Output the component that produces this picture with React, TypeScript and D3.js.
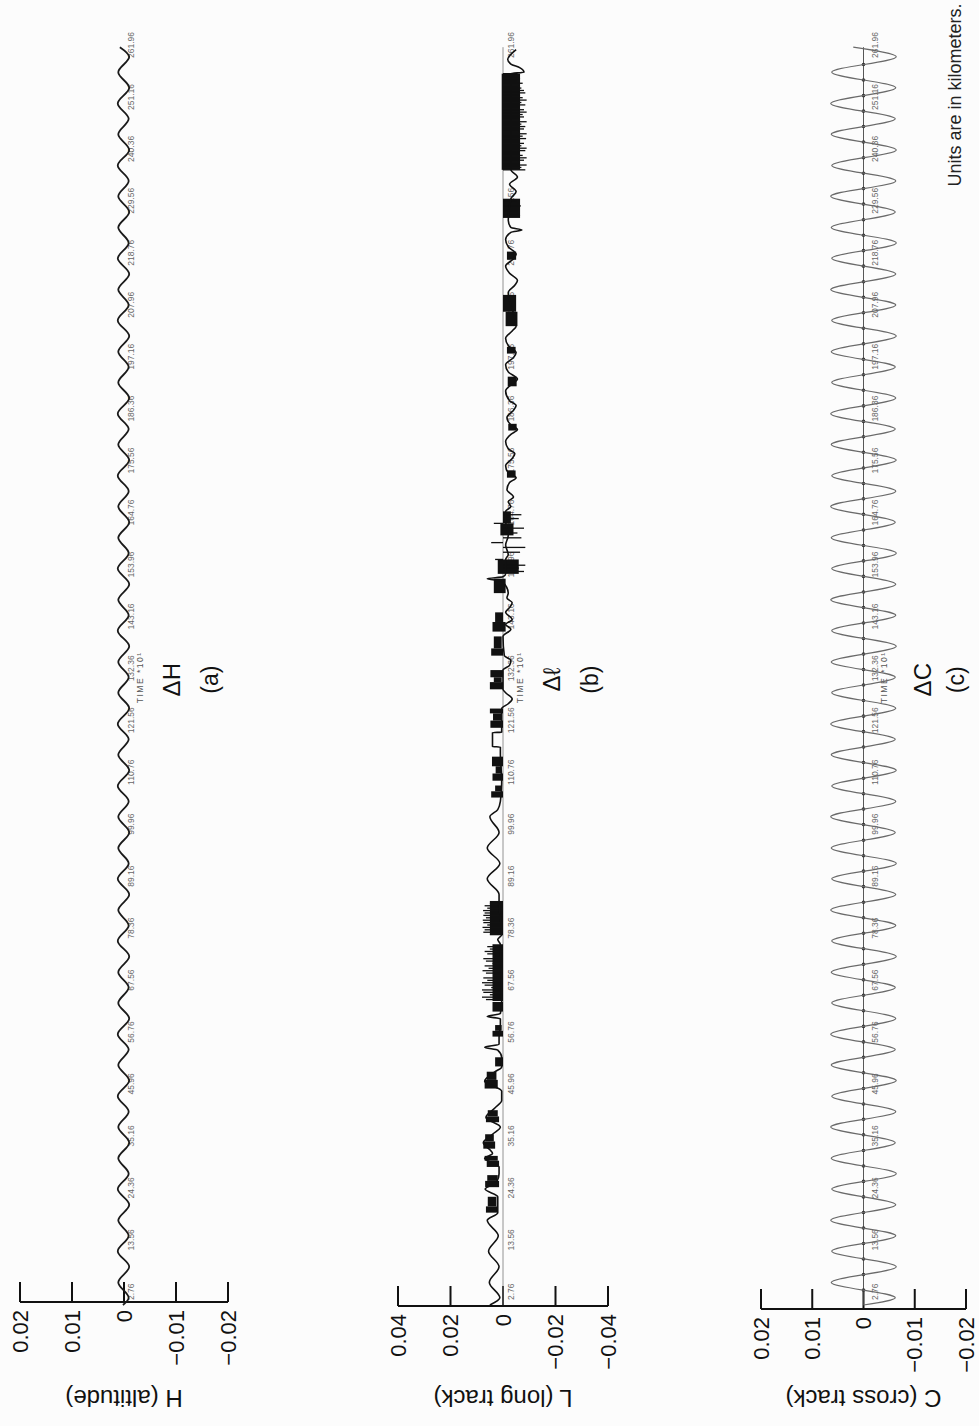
import React from 'react';
import * as d3 from 'd3';

const W = 979;
const H = 1426;

// ---------- data ----------
const timeTicks = [2.76, 13.56, 24.36, 35.16, 45.96, 56.76, 67.56, 78.36, 89.16, 99.96, 110.76, 121.56, 132.36, 143.16, 153.96, 164.76, 175.56, 186.36, 197.16, 207.96, 218.76, 229.56, 240.36, 251.16, 261.96];

const smallTicks = [0.02, 0.01, 0, -0.01, -0.02];
const smallTickLabels = ['0.02', '0.01', '0', '\u22120.01', '\u22120.02'];
const bigTicks = [0.04, 0.02, 0, -0.02, -0.04];
const bigTickLabels = ['0.04', '0.02', '0', '\u22120.02', '\u22120.04'];

// times of the successive extremes of the orbital oscillation (ΔH and ΔC)
const extremesT = [0, 1.5, 4.7, 7.95, 11.2, 14.4, 17.6, 20.85, 24.1, 27.3, 30.5, 33.75, 37.0, 40.2, 43.4, 46.65, 49.9, 53.1, 56.3, 59.55, 62.8, 66.0, 69.2, 72.45, 75.7, 78.9, 82.1, 85.35, 88.6, 91.8, 95.0, 98.25, 101.5, 104.7, 107.9, 111.15, 114.4, 117.6, 120.8, 124.05, 127.3, 130.5, 133.7, 136.95, 140.2, 143.4, 146.6, 149.85, 153.1, 156.3, 159.5, 162.75, 166.0, 169.2, 172.4, 175.65, 178.9, 182.1, 185.3, 188.55, 191.8, 195.0, 198.2, 201.45, 204.7, 207.9, 211.1, 214.35, 217.6, 220.8, 224.0, 227.25, 230.5, 233.7, 236.9, 240.15, 243.4, 246.6, 249.8, 253.05, 256.3, 259.5, 261.5];

const aValues = [0.0002,
  -0.0009, 0.0011, -0.0010, 0.0012, -0.0009, 0.0011, -0.0010, 0.0012, -0.0009, 0.0011,
  -0.0010, 0.0011, -0.0009, 0.0012, -0.0010, 0.0011, -0.0009, 0.0012, -0.0010, 0.0011,
  -0.0009, 0.0011, -0.0010, 0.0012, -0.0009, 0.0011, -0.0010, 0.0012, -0.0009, 0.0011,
  -0.0010, 0.0011, -0.0009, 0.0012, -0.0010, 0.0011, -0.0009, 0.0012, -0.0010, 0.0011,
  -0.0009, 0.0011, -0.0010, 0.0012, -0.0009, 0.0011, -0.0010, 0.0012, -0.0009, 0.0011,
  -0.0010, 0.0011, -0.0009, 0.0012, -0.0010, 0.0011, -0.0009, 0.0012, -0.0010, 0.0011,
  -0.0009, 0.0011, -0.0010, 0.0012, -0.0009, 0.0011, -0.0010, 0.0012, -0.0009, 0.0011,
  -0.0010, 0.0011, -0.0009, 0.0012, -0.0010, 0.0011, -0.0009, 0.0012, -0.0010, 0.0011,
  -0.0010, 0.0008];

const cValues = [0,
  -0.0062, 0.0063, -0.0064, 0.0062, -0.0063, 0.0064, -0.0063, 0.0062, -0.0064, 0.0063,
  -0.0062, 0.0064, -0.0063, 0.0062, -0.0064, 0.0063, -0.0062, 0.0064, -0.0063, 0.0062,
  -0.0062, 0.0063, -0.0064, 0.0062, -0.0063, 0.0064, -0.0063, 0.0062, -0.0064, 0.0063,
  -0.0062, 0.0064, -0.0063, 0.0062, -0.0064, 0.0063, -0.0062, 0.0064, -0.0063, 0.0062,
  -0.0062, 0.0063, -0.0064, 0.0062, -0.0063, 0.0064, -0.0063, 0.0062, -0.0064, 0.0063,
  -0.0062, 0.0064, -0.0063, 0.0062, -0.0064, 0.0063, -0.0062, 0.0064, -0.0063, 0.0062,
  -0.0062, 0.0063, -0.0064, 0.0062, -0.0063, 0.0064, -0.0063, 0.0062, -0.0064, 0.0063,
  -0.0062, 0.0064, -0.0063, 0.0062, -0.0064, 0.0063, -0.0062, 0.0064, -0.0063, 0.0062,
  -0.0064, 0.002];

// Δℓ (long track) trace
const bLineT = [0, 1.5, 4.7, 7.95, 11.2, 14.4, 17.6, 19.2, 22.5, 24.1, 25.5, 27.3, 28.7, 30.5, 31.5, 33.75, 35.5, 37.0, 39.0, 41.0, 42.5, 44.5, 46.5, 48.5, 49.5, 51.5, 53.0, 53.6, 54.2, 55.7, 58.3, 59.5, 60.0, 60.6, 63.0, 75.0, 76.0, 77.0, 84.0, 85.35, 88.6, 91.8, 95.0, 98.25, 101.5, 103.0, 104.7, 108.5, 109.0, 114.5, 116.0, 116.1, 119.0, 119.1, 120.0, 124.0, 125.0, 126.0, 127.3, 128.0, 132.0, 133.0, 134.0, 135.0, 139.0, 140.5, 141.5, 142.5, 144.0, 145.0, 146.0, 147.0, 148.0, 150.5, 151.0, 151.4, 152.0, 155.0, 156.0, 158.0, 160.0, 163.0, 165.0, 166.0, 167.0, 168.0, 169.5, 171.0, 172.0, 173.0, 174.5, 176.0, 177.0, 178.0, 179.5, 181.0, 182.0, 183.0, 184.5, 186.0, 187.0, 188.0, 190.0, 191.5, 192.5, 194.0, 195.5, 197.0, 198.0, 199.5, 201.0, 202.5, 203.5, 210.5, 212.0, 213.0, 214.5, 216.0, 217.5, 218.5, 220.0, 221.5, 223.0, 223.5, 224.0, 225.5, 230.0, 231.5, 233.0, 234.5, 236.0, 256.0, 256.3, 257.2, 258.0, 259.0, 260.0, 261.0];
const bLineV = [0.005, 0.0012, 0.0052, 0.0015, 0.0055, 0.0018, 0.006, 0.002, 0.002, 0.0068, 0.0025, 0.0015, 0.0015, 0.007, 0.004, 0.0075, 0.004, 0.001, 0.0065, 0.003, 0.0005, 0.0005, 0.007, 0.003, 0.0005, 0.0005, 0.002, 0.007, 0.0015, 0.0015, 0.001, 0.001, 0.006, 0.001, 0.0005, 0.001, 0.002, 0.0005, 0.0015, 0.0015, 0.006, 0.0012, 0.006, 0.0015, 0.005, 0.002, 0.001, 0.0005, 0.0005, 0.001, 0.001, 0.004, 0.004, 0.0005, 0.0005, 0.0005, -0.002, -0.0035, -0.001, 0.0, 0.0, -0.0025, -0.003, -0.0005, 0.0, -0.003, -0.001, -0.0035, -0.001, -0.0025, -0.0035, -0.0015, -0.002, 0.0005, 0.006, 0.0, -0.001, -0.001, -0.002, -0.001, -0.002, -0.001, -0.001, -0.003, -0.002, -0.004, -0.0015, -0.0025, -0.005, -0.002, -0.001, -0.0035, -0.0045, -0.002, -0.001, -0.003, -0.0055, -0.003, -0.0015, -0.004, -0.005, -0.0025, -0.001, -0.0035, -0.0055, -0.002, -0.001, -0.004, -0.005, -0.002, -0.001, -0.0035, -0.005, -0.002, -0.0045, -0.0055, -0.0025, -0.001, -0.004, -0.005, -0.002, -0.001, -0.003, -0.0072, -0.003, -0.002, -0.003, -0.005, -0.0025, -0.0055, -0.003, -0.003, -0.008, -0.0065, -0.003, -0.0018, -0.003, -0.005];

// dense blocks of the Δℓ trace: start, end, low, high
const blockStart = [19.2, 20.5, 24.5, 25.8, 28.7, 30.0, 32.5, 34.0, 38.0, 39.2, 45.0, 46.8, 49.6, 55.8, 57.0, 61.0, 63.2, 77.0, 105.5, 106.8, 109.0, 110.5, 112.0, 120.0, 121.5, 123.0, 128.0, 129.5, 130.5, 135.0, 136.5, 140.0, 142.0, 148.0, 152.0, 160.0, 162.5, 172.0, 181.8, 191.0, 197.8, 203.5, 206.5, 217.3, 226.0, 236.0];
const blockEnd = [20.5, 22.5, 25.8, 27.0, 30.0, 31.0, 34.0, 35.5, 39.2, 40.5, 46.8, 48.5, 51.5, 57.0, 58.2, 63.0, 75.0, 84.0, 106.8, 108.0, 110.5, 112.0, 114.0, 121.5, 123.0, 124.0, 129.5, 130.5, 132.0, 136.5, 139.0, 142.0, 144.0, 151.0, 155.0, 162.5, 165.0, 173.5, 183.2, 193.0, 199.2, 206.5, 210.0, 219.0, 230.0, 256.0];
const blockLo = [0.002, 0.0025, 0.0015, 0.002, 0.0015, 0.002, 0.003, 0.0035, 0.0015, 0.002, 0.002, 0.0025, 0.0, 0.0, 0.0005, 0.0, 0.0, 0.0, 0.0, 0.0005, 0.0, 0.0005, 0.0, 0.0, 0.0005, 0.0, 0.0, 0.0005, 0.0, 0.0, 0.0005, -0.001, 0.0, -0.001, -0.006, -0.004, -0.003, -0.0048, -0.0052, -0.0052, -0.0048, -0.0055, -0.005, -0.005, -0.0065, -0.0065];
const blockHi = [0.0065, 0.0058, 0.0068, 0.006, 0.0062, 0.007, 0.0075, 0.0068, 0.0065, 0.0058, 0.007, 0.0062, 0.003, 0.004, 0.003, 0.004, 0.004, 0.005, 0.0045, 0.003, 0.004, 0.0028, 0.0042, 0.0048, 0.0038, 0.005, 0.005, 0.0035, 0.0048, 0.0045, 0.0035, 0.004, 0.003, 0.0035, 0.002, 0.001, 0.0, -0.0015, -0.002, -0.0018, -0.0015, -0.001, 0.0, -0.0015, 0.0, 0.0005];

// spikes of the Δℓ trace (from zero)
const spikeT = [63.5, 64.0, 64.5, 65.0, 65.5, 66.0, 66.5, 67.0, 67.5, 68.0, 68.5, 69.0, 69.5, 70.0, 70.5, 71.0, 71.5, 72.0, 72.5, 73.0, 73.5, 74.0, 74.5,
  77.0, 77.5, 78.0, 78.5, 79.0, 79.5, 80.0, 80.5, 81.0, 81.5, 82.0, 82.5, 83.0, 83.5,
  152.5, 153.2, 153.8, 155.0, 156.5, 157.5, 158.5, 159.5, 160.5, 161.5, 162.5, 163.5, 164.3,
  226.5, 227.5, 228.5, 229.5,
  236.0, 236.5, 237.0, 237.5, 238.0, 238.5, 239.0, 239.5, 240.0, 240.5, 241.0, 241.5, 242.0, 242.5, 243.0, 243.5, 244.0, 244.5, 245.0, 245.5, 246.0, 246.5, 247.0, 247.5, 248.0, 248.5, 249.0, 249.5, 250.0, 250.5, 251.0, 251.5, 252.0, 252.5, 253.0, 253.5, 254.0, 254.5, 255.0, 255.5, 256.0];
const spikeV = [0.0065, 0.008, 0.005, 0.0075, 0.008, 0.0045, 0.007, 0.008, 0.006, 0.0075, 0.0035, 0.0065, 0.0078, 0.0055, 0.007, 0.004, 0.0065, 0.0075, 0.003, 0.006, 0.007, 0.005, 0.006,
  0.005, 0.0075, 0.007, 0.0078, 0.006, 0.0075, 0.0077, 0.0065, 0.0075, 0.007, 0.0076, 0.006, 0.007, 0.005,
  -0.008, -0.006, -0.0085, 0.003, -0.0065, -0.0085, 0.0045, -0.007, -0.0055, -0.008, 0.0035, -0.006, -0.007,
  -0.0065, -0.0055, -0.0068, -0.005,
  -0.0085, -0.007, -0.009, -0.0065, -0.008, -0.009, -0.0075, -0.006, -0.0085, -0.009, -0.007, -0.008, -0.0065, -0.0088, -0.0075, -0.009, -0.006, -0.008, -0.0085, -0.007, -0.009, -0.0065, -0.008, -0.0075, -0.009, -0.008, -0.006, -0.0085, -0.007, -0.009, -0.0075, -0.0065, -0.0085, -0.008, -0.007, -0.006, -0.0075, -0.005, -0.0065, -0.0045, -0.0055];

// ---------- layout (local, unrotated frame: x = time, y = value) ----------
const FONT = '"Liberation Sans", Arial, Helvetica, sans-serif';
const x = d3.scaleLinear().domain([0, 262]).range([121, 121 + 262 * 4.81]);

const yA = d3.scaleLinear().domain([0.02, -0.02]).range([20, 228]);
const yB = d3.scaleLinear().domain([0.04, -0.04]).range([398, 608]);
const yC = d3.scaleLinear().domain([0.02, -0.02]).range([761, 966]);

type Panel = {
  y: d3.ScaleLinear<number, number>;
  ticks: number[];
  labels: string[];
  axisX: number;
  axisTitle: string;
  title: string;
  sub: string;
  titleY: number;
  subY: number;
  labelY: number;
};

const panels: Panel[] = [
  { y: yA, ticks: smallTicks, labels: smallTickLabels, axisX: 124, axisTitle: 'H (altitude)', title: '\u0394H', sub: '(a)', titleY: 171, subY: 210, labelY: 131 },
  { y: yB, ticks: bigTicks, labels: bigTickLabels, axisX: 120, axisTitle: 'L (long track)', title: '\u0394\u2113', sub: '(b)', titleY: 551, subY: 590, labelY: 511 },
  { y: yC, ticks: smallTicks, labels: smallTickLabels, axisX: 117, axisTitle: 'C (cross track)', title: '\u0394C', sub: '(c)', titleY: 922, subY: 956, labelY: 875 },
];

const fmt = d3.format('.2f');

function Axis({ p }: { p: Panel }) {
  const y0 = p.y(p.ticks[0]);
  const y1 = p.y(p.ticks[p.ticks.length - 1]);
  return (
    <g>
      <line x1={p.axisX} x2={p.axisX} y1={y0} y2={y1} stroke="#111" strokeWidth={2} />
      {p.ticks.map((t, i) => (
        <g key={i}>
          <line x1={p.axisX} x2={p.axisX + 20} y1={p.y(t)} y2={p.y(t)} stroke="#111" strokeWidth={2} />
          <text x={p.axisX - 8} y={p.y(t)} textAnchor="end" dominantBaseline="central" fontSize={22} fontFamily={FONT} fill="#111">
            {p.labels[i]}
          </text>
        </g>
      ))}
      <text transform={`translate(28, ${(y0 + y1) / 2}) rotate(-90)`} textAnchor="middle" dominantBaseline="central" fontSize={24} fontFamily={FONT} fill="#111">
        {p.axisTitle}
      </text>
      <text x={x(130)} y={p.titleY} textAnchor="middle" dominantBaseline="central" fontSize={24} fontFamily={FONT} fill="#111">{p.title}</text>
      <text x={x(130)} y={p.subY} textAnchor="middle" dominantBaseline="central" fontSize={23} fontFamily={FONT} fill="#111">{p.sub}</text>
      {timeTicks.map((t, i) => (
        <text key={'tl' + i} x={x(t)} y={p.labelY} textAnchor="middle" dominantBaseline="central" fontSize={8.5} fontFamily={FONT} fill="#666">
          {fmt(t)}
        </text>
      ))}
      <text x={x(130.5)} y={p.labelY + 9} textAnchor="middle" dominantBaseline="central" fontSize={8.5} letterSpacing={1.5} fontFamily={FONT} fill="#555">
        TIME  *10{'\u00b9'}
      </text>
    </g>
  );
}

export default function App() {
  const idx = d3.range(extremesT.length);
  const lineA = d3.line<number>().x((i) => x(extremesT[i])).y((i) => yA(aValues[i])).curve(d3.curveMonotoneX)(idx) || '';
  const lineC = d3.line<number>().x((i) => x(extremesT[i])).y((i) => yC(cValues[i])).curve(d3.curveMonotoneX)(idx) || '';
  const bIdx = d3.range(bLineT.length);
  const lineB = d3.line<number>().x((i) => x(bLineT[i])).y((i) => yB(bLineV[i])).curve(d3.curveMonotoneX)(bIdx) || '';
  const crossings = d3.range(1, extremesT.length - 2).map((i) => (extremesT[i] + extremesT[i + 1]) / 2);

  return (
    <svg width={W} height={H} style={{ position: 'absolute', left: 0, top: 0, background: '#fcfcfc' }}>
      <rect width={W} height={H} fill="#fcfcfc" />
      <g transform={`translate(0, ${H}) rotate(-90)`}>
        {panels.map((p, i) => <Axis key={i} p={p} />)}

        {/* panel a */}
        <path d={lineA} fill="none" stroke="#1a1a1a" strokeWidth={1.8} />

        {/* panel b */}
        <line x1={x(0)} x2={x(261.5)} y1={yB(0)} y2={yB(0)} stroke="#888" strokeWidth={0.9} />
        {blockStart.map((s, i) => (
          <rect key={'bk' + i} x={x(s)} width={x(blockEnd[i]) - x(s)} y={yB(blockHi[i])} height={yB(blockLo[i]) - yB(blockHi[i])} fill="#111" />
        ))}
        {spikeT.map((t, i) => (
          <line key={'sp' + i} x1={x(t)} x2={x(t)} y1={yB(0)} y2={yB(spikeV[i])} stroke="#111" strokeWidth={1.3} />
        ))}
        <path d={lineB} fill="none" stroke="#111" strokeWidth={1.6} />

        {/* panel c */}
        <line x1={x(0)} x2={x(261.5)} y1={yC(0)} y2={yC(0)} stroke="#444" strokeWidth={0.9} />
        {crossings.map((t, i) => (
          <circle key={'cr' + i} cx={x(t)} cy={yC(0)} r={1.8} fill="#333" />
        ))}
        <path d={lineC} fill="none" stroke="#6a6a6a" strokeWidth={1.2} />

        <text x={1331} y={955} textAnchor="middle" dominantBaseline="central" fontSize={18} fontFamily={FONT} fill="#222">
          Units are in kilometers.
        </text>
      </g>
    </svg>
  );
}
